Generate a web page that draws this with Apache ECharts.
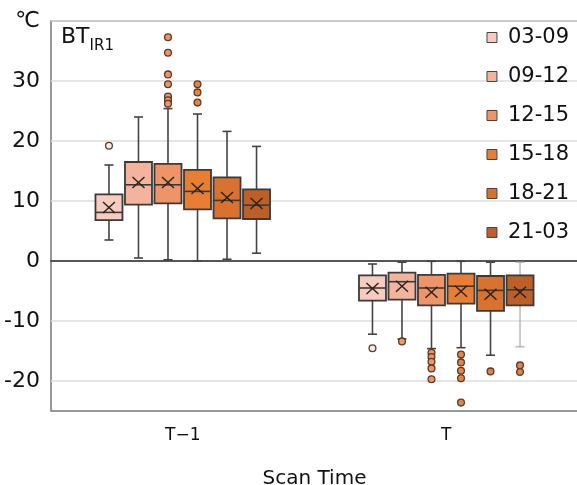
<!DOCTYPE html>
<html>
<head>
<meta charset="utf-8">
<script src="https://cdn.jsdelivr.net/npm/echarts@6/dist/echarts.min.js"></script>
<style>html,body{margin:0;padding:0;background:#fff}#c{width:577px;height:485px}</style>
</head>
<body>
<div id="c"></div>
<script>
// ---- data ----
const categories = ['T\u22121', 'T'];
const slots = ['03-09', '09-12', '12-15', '15-18', '18-21', '21-03'];
const yTicks = [-20, -10, 0, 10, 20, 30];
// each row: [min whisker, Q1, median, Q3, max whisker, mean] for T−1 then T
const box0309 = [[3.5, 6.8, 8.1, 11.1, 16.0, 8.9], [-12.2, -6.6, -4.5, -2.4, -0.5, -4.6]];
const box0912 = [[0.5, 9.4, 12.7, 16.5, 24.0, 13.1], [-13.0, -6.45, -3.45, -1.95, -0.2, -4.2]];
const box1215 = [[0.2, 9.6, 12.7, 16.2, 25.4, 13.1], [-14.6, -7.4, -4.5, -2.3, -0.05, -5.2]];
const box1518 = [[0.0, 8.6, 11.6, 15.2, 24.5, 12.1], [-14.45, -7.1, -4.2, -2.1, -0.05, -5.05]];
const box1821 = [[0.3, 7.1, 10.1, 13.95, 21.6, 10.6], [-15.7, -8.3, -4.9, -2.5, -0.2, -5.55]];
const box2103 = [[1.3, 7.0, 9.3, 11.95, 19.1, 9.6], [-14.3, -7.4, -4.8, -2.4, -0.2, -5.2]];
// outliers per category: [T−1 values], [T values]
const out0309 = [[19.2], [-14.55]];
const out0912 = [[], [-13.4]];
const out1215 = [[37.3, 34.7, 31.1, 29.45, 27.4, 26.8, 26.2], [-15.3, -16.0, -16.8, -17.9, -19.7]];
const out1518 = [[29.45, 28.1, 26.4], [-15.6, -16.9, -18.3, -19.55, -23.6]];
const out1821 = [[], [-18.4]];
const out2103 = [[], [-17.4, -18.5]];

const boxes = [box0309, box0912, box1215, box1518, box1821, box2103];
const outs = [out0309, out0912, out1215, out1518, out1821, out2103];
const colors = ['#f7cbbd', '#f4b39c', '#ef9466', '#e87e34', '#d9722f', '#bd5f26'];
const outFill = ['#fbe9e2', '#ef9a6e', '#ee9466', '#e8843e', '#e0803e', '#e08448'];

const FONT = 'DejaVu Sans';
const SPACING = 0.112;   // fraction of band between neighbouring boxes
const BOXW = 0.1025;     // fraction of band for box width
const DARK = '#3a3a3a';

function offsetX(api, cat, k) {
  const band = api.size([1, 0])[0];
  return api.coord([cat, 0])[0] + (k - 2.5) * SPACING * band;
}

function boxRender(k) {
  return function (params, api) {
    const cat = api.value(0);
    const band = api.size([1, 0])[0];
    const cx = offsetX(api, cat, k);
    const w = BOXW * band;
    const y = i => api.coord([cat, api.value(i)])[1];
    const yMin = y(1), yQ1 = y(2), yMed = y(3), yQ3 = y(4), yMax = y(5), yMean = y(6);
    const light = (k === 5 && cat === 1);
    const wStyle = { stroke: light ? '#aaaaaa' : '#444444', lineWidth: light ? 1.2 : 1.6 };
    const cap = 4.5;
    return {
      type: 'group',
      children: [
        { type: 'line', shape: { x1: cx, y1: yMax, x2: cx, y2: yQ3 }, style: wStyle },
        { type: 'line', shape: { x1: cx, y1: yQ1, x2: cx, y2: yMin }, style: wStyle },
        { type: 'line', shape: { x1: cx - cap, y1: yMax, x2: cx + cap, y2: yMax }, style: wStyle },
        { type: 'line', shape: { x1: cx - cap, y1: yMin, x2: cx + cap, y2: yMin }, style: wStyle },
        { type: 'rect', shape: { x: cx - w / 2, y: yQ3, width: w, height: yQ1 - yQ3 },
          style: { fill: colors[k], stroke: DARK, lineWidth: 1.8 } },
        { type: 'line', shape: { x1: cx - w / 2, y1: yMed, x2: cx + w / 2, y2: yMed },
          style: { stroke: DARK, lineWidth: 1.6 } },
        { type: 'line', shape: { x1: cx - 6, y1: yMean - 5.5, x2: cx + 6, y2: yMean + 5.5 },
          style: { stroke: '#222', lineWidth: 1.4 } },
        { type: 'line', shape: { x1: cx - 6, y1: yMean + 5.5, x2: cx + 6, y2: yMean - 5.5 },
          style: { stroke: '#222', lineWidth: 1.4 } }
      ]
    };
  };
}

function outRender(k) {
  return function (params, api) {
    const cat = api.value(0);
    const cx = offsetX(api, cat, k);
    const cy = api.coord([cat, api.value(1)])[1];
    return { type: 'circle', shape: { cx: cx, cy: cy, r: 3.4 },
      style: { fill: outFill[k], stroke: '#5a3a2a', lineWidth: 1.3 } };
  };
}

const series = [];
slots.forEach((name, k) => {
  series.push({
    type: 'custom', name: name,
    renderItem: boxRender(k),
    itemStyle: { color: colors[k], borderColor: '#444', borderWidth: 1 },
    encode: { x: 0, y: [1, 2, 3, 4, 5] },
    data: boxes[k].map((v, i) => [i].concat(v)),
    z: 3
  });
  const pts = [];
  outs[k].forEach((vals, i) => vals.forEach(v => pts.push([i, v])));
  series.push({
    type: 'custom', name: name,
    renderItem: outRender(k),
    itemStyle: { color: colors[k] },
    encode: { x: 0, y: 1 },
    data: pts,
    z: 4
  });
});

const chart = echarts.init(document.getElementById('c'), null, { renderer: 'canvas' });
chart.setOption({
  animation: false,
  backgroundColor: '#fff',
  textStyle: { fontFamily: FONT },
  title: {
    text: '{a|BT}{b|IR1}',
    left: 61, top: 26, padding: 0,
    textStyle: {
      fontWeight: 'normal',
      rich: {
        a: { fontFamily: FONT, fontSize: 22, fontWeight: 'normal', color: '#111', lineHeight: 24, verticalAlign: 'top' },
        b: { fontFamily: FONT, fontSize: 15, fontWeight: 'normal', color: '#111', lineHeight: 16, verticalAlign: 'top', padding: [13, 0, 0, 0] }
      }
    }
  },
  legend: {
    orient: 'vertical', right: 8, top: 27, padding: 0,
    itemWidth: 10, itemHeight: 10, itemGap: 18,
    icon: 'rect',
    itemStyle: { borderColor: '#444', borderWidth: 1 },
    textStyle: { fontFamily: FONT, fontSize: 21, color: '#111', padding: [0, 0, 0, 6] },
    data: slots
  },
  grid: { left: 51, top: 21, width: 527, height: 390, show: true, borderColor: '#777', borderWidth: 1.5,
          containLabel: false, outerBoundsMode: 'none' },
  xAxis: {
    type: 'category', data: categories,
    name: 'Scan Time', nameLocation: 'middle', nameGap: 58,
    nameTextStyle: { fontFamily: FONT, fontSize: 20, color: '#111' },
    axisLine: { lineStyle: { color: '#555', width: 2 } },
    axisTick: { show: false },
    axisLabel: { fontFamily: FONT, fontSize: 17, color: '#111', margin: 16 },
    splitLine: { show: false }
  },
  yAxis: {
    type: 'value', min: -25, max: 40, interval: 5,
    axisLine: { show: false }, axisTick: { show: false },
    axisLabel: {
      fontFamily: FONT, fontSize: 22, color: '#111', margin: 11,
      formatter: v => (yTicks.indexOf(v) >= 0 ? String(v) : (v === 40 ? '\u2103' : ''))
    },
    splitLine: { lineStyle: { color: ['rgba(0,0,0,0)', '#dcdcdc'], width: 1.5 } }
  },
  series: series
});
</script>
</body>
</html>
